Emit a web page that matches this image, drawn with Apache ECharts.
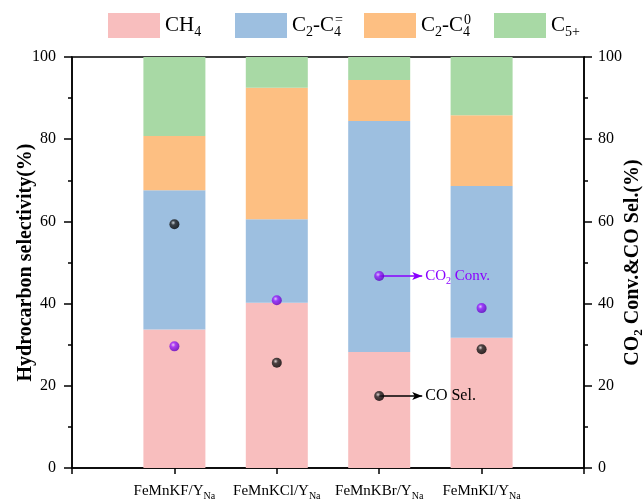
<!DOCTYPE html>
<html>
<head>
<meta charset="utf-8">
<script src="https://cdn.jsdelivr.net/npm/echarts@6/dist/echarts.min.js"></script>
<style>html,body{margin:0;padding:0;background:#fff}#c{width:644px;height:499px}</style>
</head>
<body>
<div id="c"></div>
<script>
const categories = ['FeMnKF', 'FeMnKCl', 'FeMnKBr', 'FeMnKI'];
const ch4 = [33.7, 40.2, 28.2, 31.7];
const c2c4Olefin = [33.9, 20.3, 56.2, 36.9];
const c2c4Paraffin = [13.2, 32.0, 10.0, 17.2];
const c5plus = [19.2, 7.5, 5.6, 14.2];
const co2Conv = [29.6, 40.8, 46.7, 38.9];
const coSel = [59.3, 25.6, 17.5, 28.9];
const seriesNames = ['CH4', 'C2-C4=', 'C2-C40', 'C5+'];
const seriesColors = ['#F8BEBE', '#9DBFE0', '#FDBF82', '#A8D9A5'];

const FONT = "'Liberation Serif', 'Times New Roman', serif";
// padded category list: empty slots at both ends of the axis
const axisCats = [''].concat(categories, ['']);
const pad = (arr) => [null].concat(arr, [null]);
const xPos = categories.map((c, i) => i + 1);

const legendLabels = {
  'CH4': 'CH{sub|4}',
  'C2-C4=': 'C{sub|2}-C{subn|4}{sup|=}',
  'C2-C40': 'C{sub|2}-C{subn|4}{sup|0}',
  'C5+': 'C{sub|5+}'
};
const legendLeft = [103, 230, 359, 489];

const legends = seriesNames.map((n, i) => ({
  data: [n],
  left: legendLeft[i],
  top: 8,
  icon: 'rect',
  itemWidth: 52,
  itemHeight: 25,
  selectedMode: false,
  formatter: (name) => legendLabels[name],
  textStyle: {
    fontFamily: FONT, fontSize: 21, color: '#000',
    rich: {
      sub: {fontFamily: FONT, fontSize: 14, color: '#000', padding: [14, 0, 0, 0]},
      subn: {fontFamily: FONT, fontSize: 14, color: '#000', padding: [14, 0, 0, 0], width: 1},
      sup: {fontFamily: FONT, fontSize: 14, color: '#000', padding: [0, 0, 10, 0]}
    }
  }
}));

const stackData = [ch4, c2c4Olefin, c2c4Paraffin, c5plus];
const barSeries = seriesNames.map((n, i) => ({
  name: n,
  type: 'bar',
  stack: 'total',
  barWidth: 62,
  itemStyle: {color: seriesColors[i]},
  data: pad(stackData[i]),
  z: 2
}));

function sphere(light, mid, dark) {
  return {type: 'radial', x: 0.38, y: 0.35, r: 0.65,
    colorStops: [{offset: 0, color: light}, {offset: 0.35, color: mid}, {offset: 1, color: dark}]};
}
const PURPLE = '#8A00FF';

const option = {
  animation: false,
  backgroundColor: '#fff',
  legend: legends,
  grid: {left: 72, right: 60, top: 57, bottom: 31, outerBoundsMode: 'none', containLabel: false,
    show: true, borderColor: '#000', borderWidth: 1.5, backgroundColor: 'transparent'},
  xAxis: [{
    type: 'category', data: axisCats, boundaryGap: false,
    axisLine: {show: true, onZero: false, lineStyle: {color: '#000', width: 1.5}},
    axisTick: {show: true, length: 6, alignWithLabel: true, interval: 0, lineStyle: {color: '#000', width: 1.5}},
    splitLine: {show: false},
    axisLabel: {
      margin: 13, interval: 0,
      fontFamily: FONT, fontSize: 15, color: '#000',
      formatter: (v) => v ? v + '/Y{sub|Na}' : '',
      rich: {sub: {fontFamily: FONT, fontSize: 10, color: '#000', padding: [10, 0, 0, 0]}}
    }
  }, {
    // hidden numeric twin of the category axis, used for the scatter points and arrows
    type: 'value', min: 0, max: axisCats.length - 1, position: 'bottom', show: false
  }],
  yAxis: [{
    type: 'value', min: 0, max: 100, interval: 20, position: 'left',
    name: 'Hydrocarbon selectivity(%)', nameLocation: 'middle', nameGap: 36, nameRotate: 90,
    nameMoveOverlap: false,
    nameTextStyle: {fontFamily: FONT, fontSize: 20, fontWeight: 'bold', color: '#000'},
    axisLine: {show: true, lineStyle: {color: '#000', width: 1.5}},
    axisTick: {show: true, length: 8, lineStyle: {color: '#000', width: 1.5}},
    minorTick: {show: true, splitNumber: 2, length: 4, lineStyle: {color: '#000', width: 1.5}},
    splitLine: {show: false},
    axisLabel: {margin: 16, fontFamily: FONT, fontSize: 16, color: '#000'}
  }, {
    type: 'value', min: 0, max: 100, interval: 20, position: 'right',
    name: 'CO{sub|2} Conv.&CO Sel.(%)', nameLocation: 'middle', nameGap: 36, nameRotate: 90,
    nameMoveOverlap: false,
    nameTextStyle: {fontFamily: FONT, fontSize: 20, fontWeight: 'bold', color: '#000',
      rich: {sub: {fontFamily: FONT, fontSize: 13, fontWeight: 'bold', color: '#000', padding: [12, 0, 0, 0]}}},
    axisLine: {show: true, lineStyle: {color: '#000', width: 1.5}},
    axisTick: {show: true, length: 8, lineStyle: {color: '#000', width: 1.5}},
    minorTick: {show: true, splitNumber: 2, length: 4, lineStyle: {color: '#000', width: 1.5}},
    splitLine: {show: false},
    axisLabel: {margin: 14, fontFamily: FONT, fontSize: 16, color: '#000'}
  }],
  series: barSeries.concat([{
    name: 'CO2 Conv.',
    type: 'scatter', xAxisIndex: 1, yAxisIndex: 1, symbolSize: 10, z: 5,
    itemStyle: {color: sphere('#E8C8FF', '#9A1CFF', '#6000C0')},
    data: co2Conv.map((v, j) => [xPos[j], v]),
    markLine: {
      silent: true, symbol: ['none', 'arrow'], symbolSize: [6, 10],
      lineStyle: {color: PURPLE, width: 1.5, type: 'solid'},
      label: {show: true, position: 'end', distance: 3, color: PURPLE, fontFamily: FONT, fontSize: 15,
        formatter: 'CO{sub|2} Conv.',
        rich: {sub: {fontFamily: FONT, fontSize: 10, color: PURPLE, padding: [10, 0, 0, 0]}}},
      data: [[{coord: [xPos[2], co2Conv[2]]}, {coord: [xPos[2] + 0.42, co2Conv[2]]}]]
    }
  }, {
    name: 'CO Sel.',
    type: 'scatter', xAxisIndex: 1, yAxisIndex: 1, symbolSize: 10, z: 5,
    itemStyle: {color: sphere('#D8D8D8', '#222', '#000')},
    data: coSel.map((v, j) => [xPos[j], v]),
    markLine: {
      silent: true, symbol: ['none', 'arrow'], symbolSize: [6, 10],
      lineStyle: {color: '#000', width: 1.5, type: 'solid'},
      label: {show: true, position: 'end', distance: 3, color: '#000', fontFamily: FONT, fontSize: 16,
        formatter: 'CO Sel.'},
      data: [[{coord: [xPos[2], coSel[2]]}, {coord: [xPos[2] + 0.42, coSel[2]]}]]
    }
  }])
};

const chart = echarts.init(document.getElementById('c'), null, {renderer: 'canvas'});
chart.setOption(option);
</script>
</body>
</html>
